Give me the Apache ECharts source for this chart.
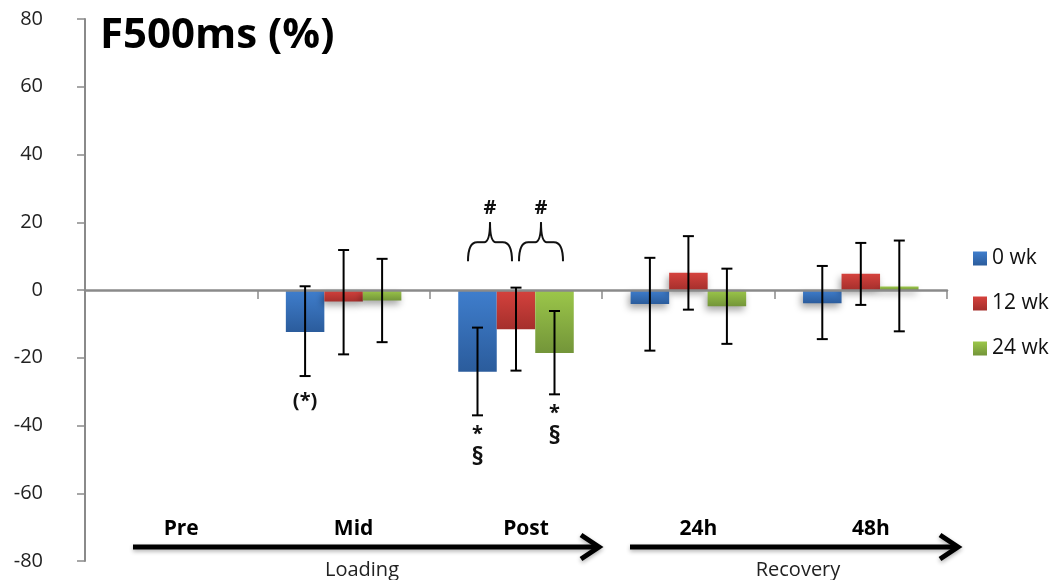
<!DOCTYPE html>
<html>
<head>
<meta charset="utf-8">
<script src="https://cdn.jsdelivr.net/npm/echarts@6/dist/echarts.min.js"></script>
<style>html,body{margin:0;padding:0;background:#fff}#c{width:1055px;height:580px}</style>
</head>
<body>
<div id="c"></div>
<script>
const categories = ['Pre', 'Mid', 'Post', '24h', '48h'];
const seriesNames = ['0 wk', '12 wk', '24 wk'];
const yTicks = [-80, -60, -40, -20, 0, 20, 40, 60, 80];

const wk0Values  = [0, -12.4, -24.1, -4.1, -3.9];
const wk0ErrHigh = [0, 1.1, -11.1, 9.5, 7.1];
const wk0ErrLow  = [0, -25.4, -37.0, -17.9, -14.5];
const wk0Notes   = ['', '(*)', '*\n§', '', ''];

const wk12Values  = [0, -3.4, -11.6, 5.1, 4.8];
const wk12ErrHigh = [0, 11.8, 0.7, 15.9, 13.9];
const wk12ErrLow  = [0, -19.0, -23.8, -5.8, -4.4];
const wk12Notes   = ['', '', '', '', ''];

const wk24Values  = [0, -3.1, -18.6, -4.8, 1.0];
const wk24ErrHigh = [0, 9.2, -6.2, 6.3, 14.6];
const wk24ErrLow  = [0, -15.4, -30.8, -15.9, -12.2];
const wk24Notes   = ['', '', '*\n§', '', ''];

const groupLabels = ['Loading', 'Recovery'];
const titleText = 'F500ms (%)';

const FONT = 'Open Sans';
const colors = [
  ['#3f7ecd', '#2b5c9c'],
  ['#d5423d', '#a52f2c'],
  ['#9cc74a', '#739539']
];
const values = [wk0Values, wk12Values, wk24Values];
const highs = [wk0ErrHigh, wk12ErrHigh, wk24ErrHigh];
const lows = [wk0ErrLow, wk12ErrLow, wk24ErrLow];
const notes = [wk0Notes, wk12Notes, wk24Notes];

function grad(c) {
  return new echarts.graphic.LinearGradient(0, 0, 0, 1, [
    { offset: 0, color: c[0] }, { offset: 1, color: c[1] }
  ]);
}

const chart = echarts.init(document.getElementById('c'));
const series = [];
seriesNames.forEach((name, k) => {
  series.push({
    name: name,
    type: 'bar',
    xAxisIndex: 0,
    data: values[k],
    barGap: '0%',
    barCategoryGap: '33%',
    itemStyle: {
      color: grad(colors[k]),
      shadowColor: 'rgba(0,0,0,0.35)',
      shadowBlur: 7,
      shadowOffsetX: -2,
      shadowOffsetY: 4
    },
    z: 2
  });
});
seriesNames.forEach((name, k) => {
  series.push({
    type: 'custom',
    xAxisIndex: 0,
    z: 10,
    data: categories.map((c, i) => [i, highs[k][i], lows[k][i]]),
    renderItem: function (params, api) {
      const ci = api.value(0);
      const hi = api.value(1), lo = api.value(2);
      if (hi === lo) return null;
      const catW = api.size([1, 0])[0];
      const barW = catW * 0.67 / 3;
      const cx = api.coord([ci, 0])[0] + (k - 1) * barW;
      const yHi = api.coord([ci, hi])[1];
      const yLo = api.coord([ci, lo])[1];
      const cap = 5.5;
      const st = { stroke: '#000', lineWidth: 2 };
      const children = [
        { type: 'line', shape: { x1: cx, y1: yHi, x2: cx, y2: yLo }, style: st },
        { type: 'line', shape: { x1: cx - cap, y1: yHi, x2: cx + cap, y2: yHi }, style: st },
        { type: 'line', shape: { x1: cx - cap, y1: yLo, x2: cx + cap, y2: yLo }, style: st }
      ];
      const note = notes[k][params.dataIndex];
      if (note) {
        const parts = note.split('\n');
        const isParen = note === '(*)';
        children.push({
          type: 'text',
          style: {
            text: parts.map((p, j) => '{' + (p === '§' ? 's' : 'a') + '|' + p + '}').join('\n'),
            x: cx,
            y: yLo + (isParen ? 14 : 8),
            align: 'center',
            verticalAlign: 'top',
            rich: {
              a: { font: 'bold 20px "' + FONT + '"', lineHeight: 22, fill: '#111', align: 'center' },
              s: { font: 'bold 25px "' + FONT + '"', lineHeight: 26, fill: '#111', align: 'center' }
            },
            fill: '#111'
          }
        });
      }
      return { type: 'group', children: children };
    }
  });
});

chart.setOption({
  animation: false,
  backgroundColor: '#fff',
  textStyle: { fontFamily: FONT },
  grid: { left: 85, right: 108, top: 19, bottom: 19 },
  title: {
    text: titleText,
    left: 95,
    top: 10,
    textStyle: { fontFamily: FONT, fontWeight: 'bold', fontSize: 42, color: '#000' }
  },
  legend: {
    data: seriesNames,
    orient: 'vertical',
    left: 968,
    top: 243,
    itemWidth: 14,
    itemHeight: 14,
    itemGap: 24,
    icon: 'rect',
    textStyle: { fontFamily: FONT, fontSize: 21, color: '#111' }
  },
  xAxis: [
    {
      type: 'category',
      data: categories,
      z: 5,
      axisLine: { onZero: true, lineStyle: { color: '#8a8a8a', width: 2.5 } },
      axisTick: { show: true, length: 9, lineStyle: { color: '#8a8a8a', width: 1.5 } },
      axisLabel: { show: false },
      splitLine: { show: false }
    },
    {
      type: 'category',
      data: categories,
      position: 'bottom',
      offset: -54,
      axisLine: { show: false },
      axisTick: { show: false },
      axisLabel: {
        margin: 12,
        padding: [0, 0, 0, 20],
        fontFamily: FONT, fontWeight: 'bold', fontSize: 21, color: '#000'
      }
    }
  ],
  yAxis: {
    type: 'value',
    min: yTicks[0],
    max: yTicks[yTicks.length - 1],
    interval: 20,
    axisLine: { show: true, lineStyle: { color: '#8a8a8a', width: 2 } },
    axisTick: { show: true, length: 8, lineStyle: { color: '#8a8a8a', width: 1.5 } },
    axisLabel: { margin: 42, fontFamily: FONT, fontSize: 20, color: '#222' },
    splitLine: { show: false }
  },
  series: series
});

// Decorations: group arrows, group labels, significance braces
const arrowY = 547;
const shadowSt = { shadowColor: 'rgba(0,0,0,0.3)', shadowBlur: 4, shadowOffsetY: 2 };
function arrow(x1, x2) {
  return [
    { type: 'line', shape: { x1: x1, y1: arrowY, x2: x2 - 3, y2: arrowY },
      style: Object.assign({ stroke: '#000', lineWidth: 5 }, shadowSt) },
    { type: 'polyline', shape: { points: [[x2 - 18, arrowY - 12], [x2, arrowY], [x2 - 18, arrowY + 12]] },
      style: Object.assign({ stroke: '#000', lineWidth: 5, fill: null, lineJoin: 'miter' }, shadowSt) }
  ];
}
const postX = chart.convertToPixel({ xAxisIndex: 0 }, 'Post');
const braceEndY = chart.convertToPixel({ yAxisIndex: 0 }, 8.5);
function brace(x0, x1) {
  const mid = (x0 + x1) / 2;
  const h = braceEndY - 19, p = braceEndY - 39;
  const st = { stroke: '#111', lineWidth: 2, fill: null };
  return [
    { type: 'bezierCurve', shape: { x1: x0, y1: braceEndY, x2: x0 + 9, y2: h, cpx1: x0, cpy1: h }, style: st },
    { type: 'line', shape: { x1: x0 + 9, y1: h, x2: mid - 6, y2: h }, style: st },
    { type: 'bezierCurve', shape: { x1: mid - 6, y1: h, x2: mid, y2: p, cpx1: mid, cpy1: h }, style: st },
    { type: 'bezierCurve', shape: { x1: mid, y1: p, x2: mid + 6, y2: h, cpx1: mid, cpy1: h }, style: st },
    { type: 'line', shape: { x1: mid + 6, y1: h, x2: x1 - 9, y2: h }, style: st },
    { type: 'bezierCurve', shape: { x1: x1 - 9, y1: h, x2: x1, y2: braceEndY, cpx1: x1, cpy1: h }, style: st }
  ];
}
function hash(x) {
  return { type: 'text', style: { text: '#', x: x, y: braceEndY - 53, align: 'center', verticalAlign: 'middle',
    font: 'bold 20px "' + FONT + '"', fill: '#111' } };
}
const b1 = [postX - 48, postX - 4], b2 = [postX + 3, postX + 47];
chart.setOption({
  graphic: [].concat(
    arrow(133, 599),
    arrow(630, 958),
    [
      { type: 'text', style: { text: groupLabels[0], x: 362, y: 570, align: 'center', verticalAlign: 'middle', font: '20px "' + FONT + '"', fill: '#222' } },
      { type: 'text', style: { text: groupLabels[1], x: 798, y: 570, align: 'center', verticalAlign: 'middle', font: '20px "' + FONT + '"', fill: '#222' } }
    ],
    brace(b1[0], b1[1]), brace(b2[0], b2[1]),
    [hash((b1[0] + b1[1]) / 2), hash((b2[0] + b2[1]) / 2)]
  )
});
</script>
</body>
</html>
